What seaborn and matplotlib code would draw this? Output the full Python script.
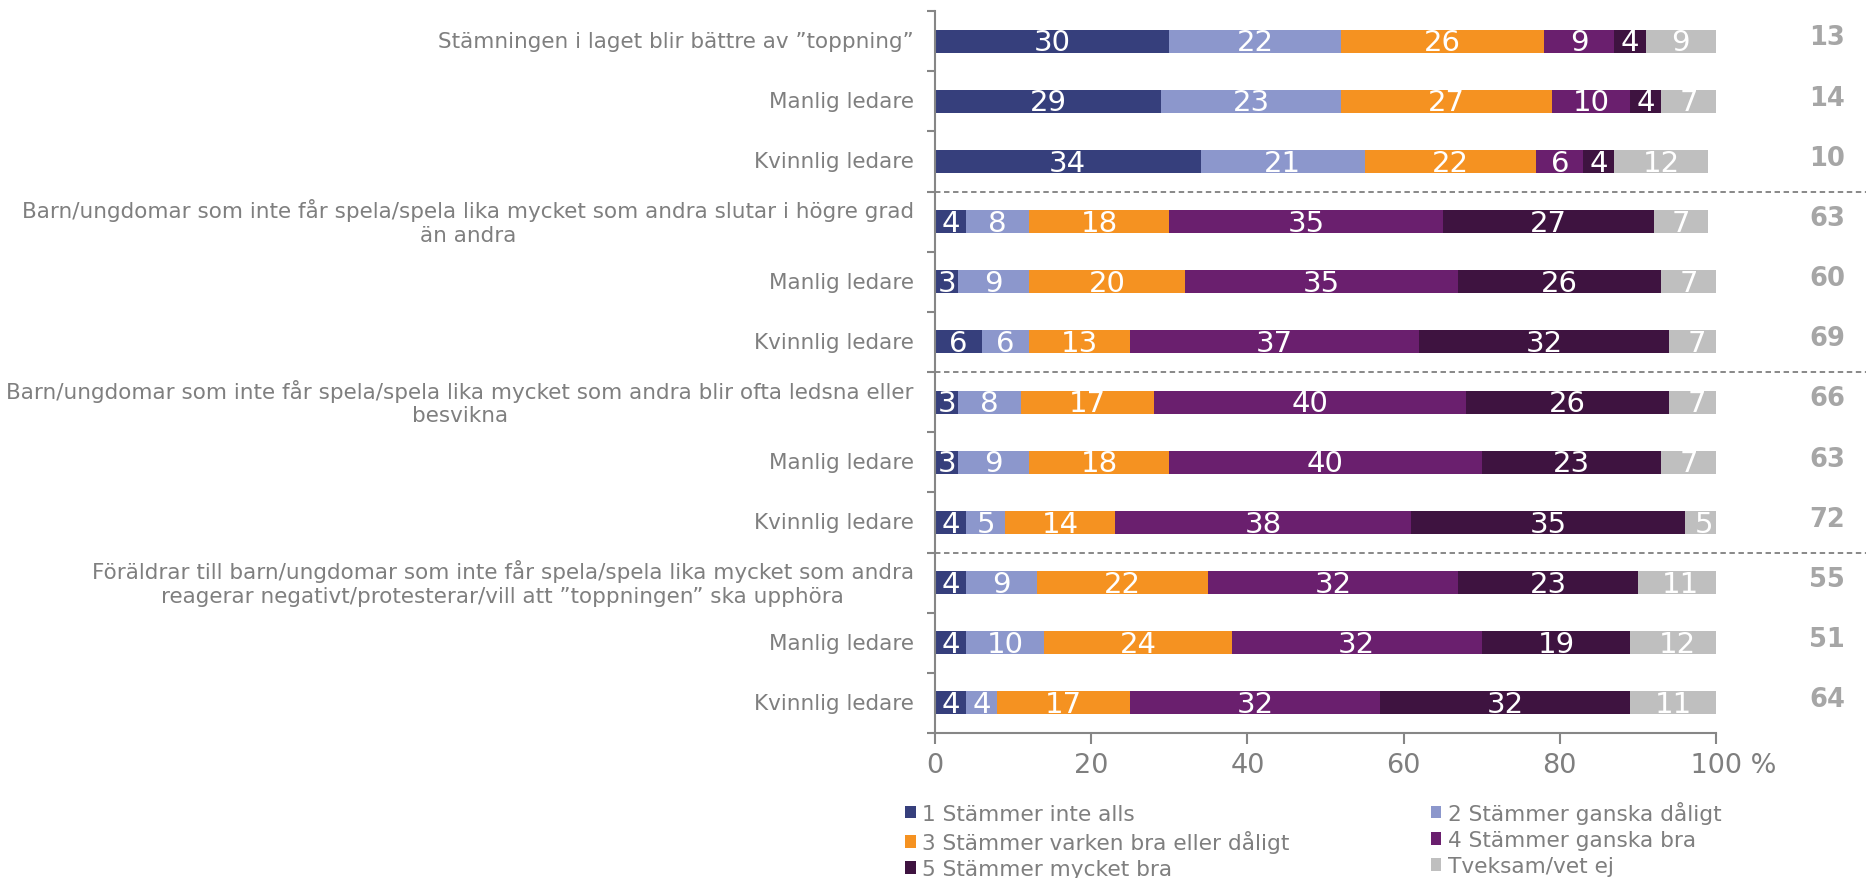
import numpy as np
import pandas as pd
import matplotlib
matplotlib.use("Agg")
import matplotlib.pyplot as plt
import matplotlib.transforms as mtransforms
from matplotlib.patches import Patch
import seaborn as sns

# ---------------- data ----------------
row_labels = [
    "Stämningen i laget blir bättre av \u201dtoppning\u201d",
    "Manlig ledare",
    "Kvinnlig ledare",
    "Barn/ungdomar som inte får spela/spela lika mycket som andra slutar i högre grad\nän andra",
    "Manlig ledare",
    "Kvinnlig ledare",
    "Barn/ungdomar som inte får spela/spela lika mycket som andra blir ofta ledsna eller\nbesvikna",
    "Manlig ledare",
    "Kvinnlig ledare",
    "Föräldrar till barn/ungdomar som inte får spela/spela lika mycket som andra\nreagerar negativt/protesterar/vill att \u201dtoppningen\u201d ska upphöra",
    "Manlig ledare",
    "Kvinnlig ledare",
]
series_names = [
    "1 Stämmer inte alls",
    "2 Stämmer ganska dåligt",
    "3 Stämmer varken bra eller dåligt",
    "4 Stämmer ganska bra",
    "5 Stämmer mycket bra",
    "Tveksam/vet ej",
]
s1 = [30, 29, 34, 4, 3, 6, 3, 3, 4, 4, 4, 4]
s2 = [22, 23, 21, 8, 9, 6, 8, 9, 5, 9, 10, 4]
s3 = [26, 27, 22, 18, 20, 13, 17, 18, 14, 22, 24, 17]
s4 = [9, 10, 6, 35, 35, 37, 40, 40, 38, 32, 32, 32]
s5 = [4, 4, 4, 27, 26, 32, 26, 23, 35, 23, 19, 32]
s6 = [9, 7, 12, 7, 7, 7, 7, 7, 5, 11, 12, 11]
totals = [13, 14, 10, 63, 60, 69, 66, 63, 72, 55, 51, 64]
x_ticks = [0, 20, 40, 60, 80, 100]

colors = ["#363F7C", "#8C97CC", "#F59221", "#6A1F6E", "#3E1340", "#BFBFBF"]
TXT = "#7F7F7F"
SPINE = "#868686"

# ---------------- figure ----------------
sns.set_style("white")
plt.rcParams["font.family"] = ["DejaVu Sans"]

W, H = 1866, 879
fig = plt.figure(figsize=(W / 100, H / 100), dpi=100)
ax_l, ax_r, ax_t, ax_b = 935, 1716, 12, 734
ax = fig.add_axes([ax_l / W, 1 - ax_b / H, (ax_r - ax_l) / W, (ax_b - ax_t) / H])

series = [s1, s2, s3, s4, s5, s6]
rows = [f"r{i}" for i in range(len(row_labels))]
df = pd.DataFrame({"row": rows})
cum = np.zeros(len(rows))
cums = []
for k, s in enumerate(series):
    cum = cum + np.array(s, dtype=float)
    df[f"c{k}"] = cum
    cums.append(cum.copy())

for k in range(len(series) - 1, -1, -1):
    sns.barplot(data=df, x=f"c{k}", y="row", order=rows, color=colors[k],
                width=0.38, orient="h", ax=ax, linewidth=0, saturation=1)

# value labels
for k, s in enumerate(series):
    for i, v in enumerate(s):
        ax.text(cums[k][i] - v / 2, i + 0.02, f"{v}", ha="center", va="center",
                color="white", fontsize=21)

ax.set_xlim(0, 100)
ax.set_ylim(len(rows) - 0.5, -0.5)
ax.set_xlabel("")
ax.set_ylabel("")

for sp in ["top", "right"]:
    ax.spines[sp].set_visible(False)
for sp in ["left", "bottom"]:
    ax.spines[sp].set_color(SPINE)
    ax.spines[sp].set_linewidth(1.5)

ax.set_yticks(np.arange(-0.5, len(rows), 1))
ax.set_yticklabels([])
ax.tick_params(axis="y", length=6, width=1.5, color=SPINE, direction="out", left=True)
ax.set_xticks(x_ticks)
xt_labels = [str(t) for t in x_ticks]
xt_labels[-1] = "    100 %"
ax.set_xticklabels(xt_labels)
ax.tick_params(axis="x", length=8, width=1.5, color=SPINE, direction="out",
               labelsize=19.5, labelcolor=TXT, pad=6, bottom=True)

blend = mtransforms.blended_transform_factory(ax.transAxes, ax.transData)
axw = ax_r - ax_l

# category labels
for i, lab in enumerate(row_labels):
    ax.text(-21 / axw, i, lab, transform=blend, ha="right", va="center",
            multialignment="center", fontsize=15.5, color=TXT)

# right totals
for i, t in enumerate(totals):
    ax.text(1 + (1827 - ax_r) / axw, i - 0.06, str(t), transform=blend,
            ha="center", va="center", fontsize=18.5, fontweight="bold", color="#A6A6A6")

# dashed separators
for b in [2.5, 5.5, 8.5]:
    ax.plot([0, (W - ax_l) / axw], [b, b], transform=blend, clip_on=False,
            color=TXT, lw=1.3, ls=(0, (3, 2)))

# legend (row-major order)
handles = [Patch(facecolor=c, edgecolor="none", label=n) for c, n in zip(colors, series_names)]
order = [0, 2, 4, 1, 3, 5]
fig.legend([handles[j] for j in order], [series_names[j] for j in order],
           ncol=2, loc="upper left", bbox_to_anchor=(905 / W, 1 - 802 / H),
           frameon=False, fontsize=15.6, labelcolor=TXT, handlelength=0.5,
           handleheight=0.5, handletextpad=0.3, columnspacing=6.5,
           labelspacing=0.28, borderaxespad=0, borderpad=0)

fig.savefig("out.png", dpi=100)
